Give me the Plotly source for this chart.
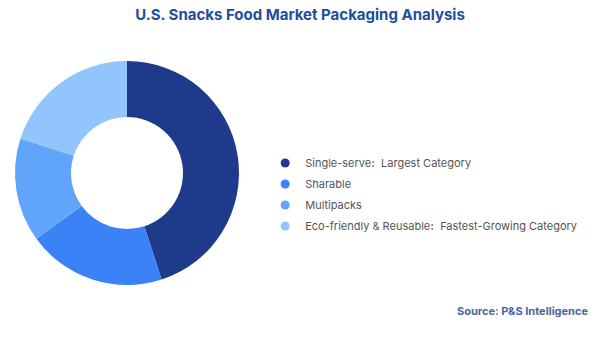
import plotly.graph_objects as go

# Packaging segments and their share of the market (%)
segments = ["Single-serve", "Sharable", "Multipacks", "Eco-friendly & Reusable"]
shares = [45, 20, 15, 20]
notes = ["Largest Category", "", "", "Fastest-Growing Category"]
colors = ["#1e3a8a", "#3b82f6", "#60a5fa", "#93c5fd"]

fig = go.Figure()

fig.add_trace(go.Pie(
    labels=segments,
    values=shares,
    hole=0.5,
    sort=False,
    direction="clockwise",
    rotation=0,
    marker=dict(colors=colors, line=dict(width=0)),
    textinfo="none",
    hoverinfo="label+percent",
    showlegend=False,
    domain=dict(x=[15 / 600, 239 / 600], y=[1 - 285 / 337, 1 - 61 / 337]),
))

# Legend entries with round markers, one group each for even spacing
for i, (name, note, col) in enumerate(zip(segments, notes, colors)):
    label = f"{name}<b>:</b>  {note}" if note else name
    fig.add_trace(go.Scatter(
        x=[None], y=[None], mode="markers",
        marker=dict(symbol="circle", size=9, color=col),
        name=label, showlegend=True, legendgroup=f"g{i}",
    ))

fig.update_layout(
    width=600, height=337,
    margin=dict(l=0, r=0, t=0, b=0),
    paper_bgcolor="white",
    plot_bgcolor="white",
    font=dict(family="Inter, Open Sans, sans-serif"),
    xaxis=dict(visible=False),
    yaxis=dict(visible=False),
    title=dict(
        text="<b>U.S. Snacks Food Market Packaging Analysis</b>",
        x=0.5, xanchor="center", y=1 - 15 / 337, yanchor="middle",
        font=dict(size=15, color="#1f4e9e", family="Inter, Open Sans, sans-serif"),
    ),
    legend=dict(
        x=0.442, xanchor="left", y=1 - 148.5 / 337, yanchor="top",
        font=dict(size=11, color="#555555"),
        itemwidth=30,
        tracegroupgap=2,
        bgcolor="rgba(0,0,0,0)",
    ),
    annotations=[dict(
        text="<b>Source: P&S Intelligence</b>",
        x=590 / 600, xanchor="right", y=1 - 311 / 337, yanchor="middle",
        xref="paper", yref="paper", showarrow=False,
        font=dict(size=11, color="#4a65a0"),
    )],
)

fig.write_html("out.html")
